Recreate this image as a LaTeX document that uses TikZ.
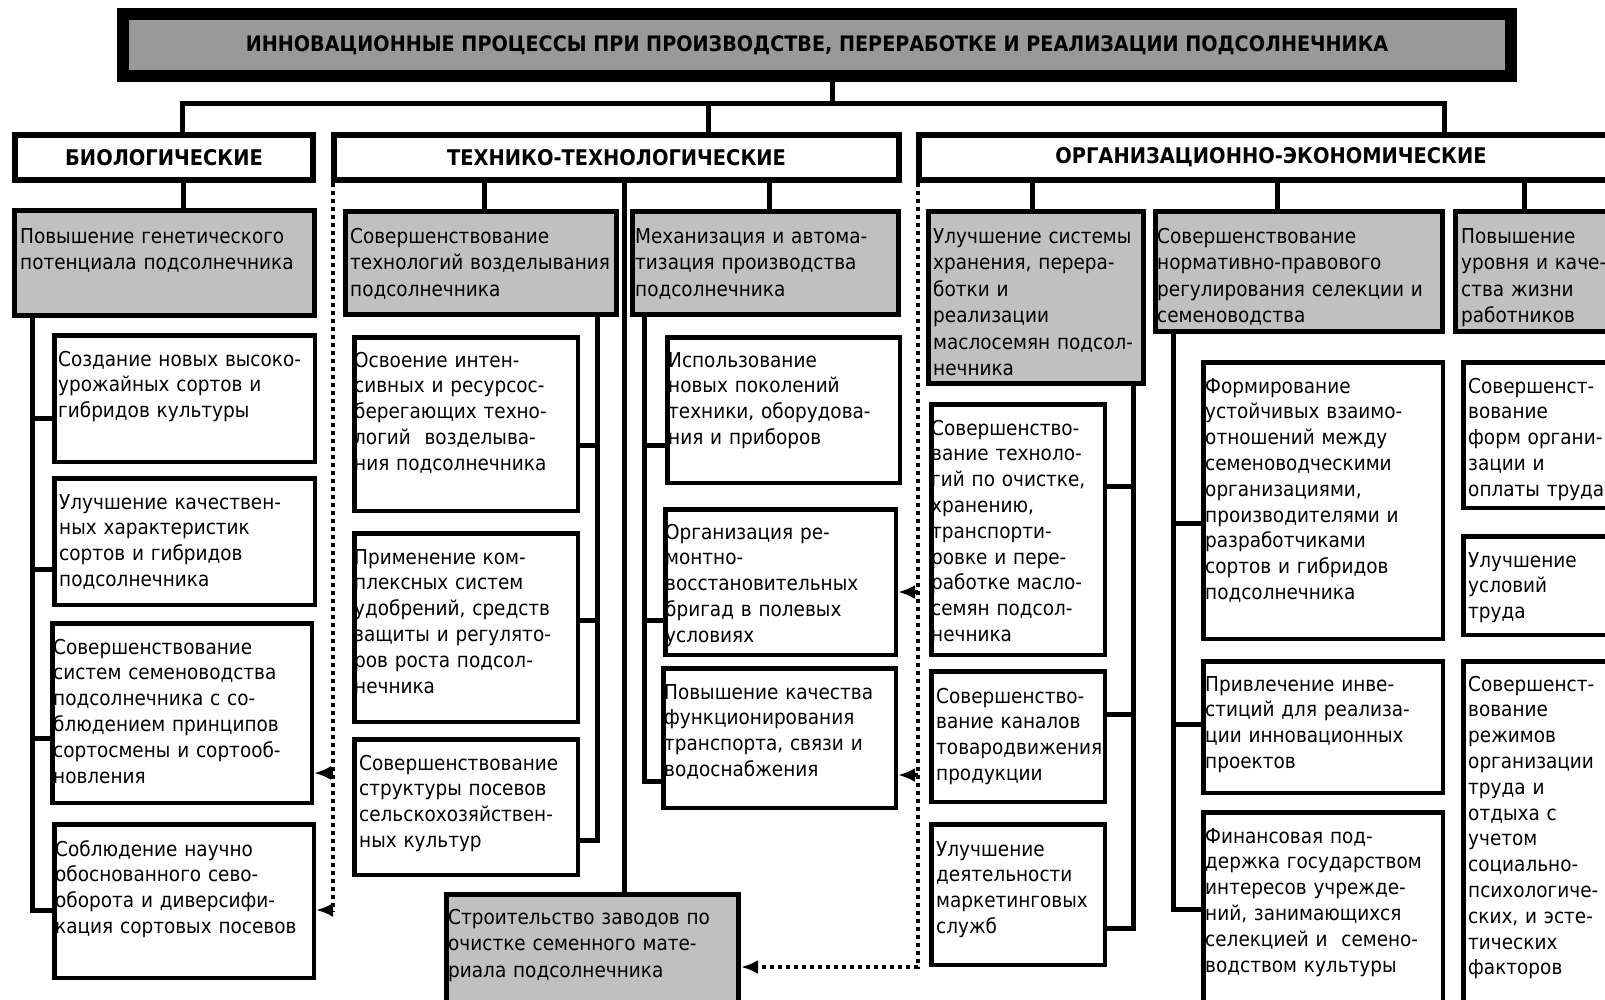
\documentclass[tikz,border=0pt]{standalone}
\usepackage{fontspec}
\setmainfont{DejaVu Sans}[FakeStretch=0.9]
\usetikzlibrary{arrows.meta}
\definecolor{titlegray}{RGB}{153,153,153}
\definecolor{boxgray}{RGB}{192,192,192}
\tikzset{
  titlebox/.style={draw, line width=12pt, fill=titlegray, inner sep=0pt, font=\bfseries\fontsize{21.3}{26}\selectfont},
  headbox/.style={draw, line width=6pt, fill=white, inner sep=0pt, font=\bfseries\fontsize{21.6}{26}\selectfont},
  graybox/.style={draw, line width=5pt, fill=boxgray, inner sep=0pt},
  whitebox/.style={draw, line width=4.5pt, fill=white, inner sep=0pt},
  gtxt/.style={inner sep=0pt, anchor=base west, align=left, font=\fontsize{20.5}{26.5}\selectfont},
  wtxt/.style={inner sep=0pt, anchor=base west, align=left, font=\fontsize{20.5}{25.8}\selectfont},
  conn/.style={line width=5pt},
  dotl/.style={line width=4pt, dash pattern=on 4pt off 4pt},
  arr/.style={line width=4pt, -{Latex[length=17pt,width=14pt]}},
}
% style, name, x1, y1, x2, y2, line width, text
\newcommand\bx[8]{\node[#1, minimum width={#5-#3-#7}, minimum height={#6-#4-#7}] (#2) at ({(#3+#5)/2},{(#4+#6)/2}) {#8};}
% style, box name, pad x, baseline offset, text width, text
\newcommand\tx[6]{\node[#1, text width=#5] (#2-t) at ([shift={(#3,#4)}]#2.north west) {#6};}
\begin{document}
\begin{tikzpicture}[x=1pt,y=-1pt]
\useasboundingbox (0,0) rectangle (1605,999);
\clip (0,0) rectangle (1605,999);

% ---- boxes ----
\bx{titlebox}{title}{117}{8}{1517}{82}{12}{ИННОВАЦИОННЫЕ ПРОЦЕССЫ ПРИ ПРОИЗВОДСТВЕ, ПЕРЕРАБОТКЕ И РЕАЛИЗАЦИИ ПОДСОЛНЕЧНИКА}
\bx{headbox}{bioH}{12}{132}{316}{183}{6}{БИОЛОГИЧЕСКИЕ}
\bx{headbox}{techH}{331}{132}{902}{183}{6}{ТЕХНИКО-ТЕХНОЛОГИЧЕСКИЕ}
\bx{headbox}{orgH}{916}{132}{1626}{183}{6}{ОРГАНИЗАЦИОННО-ЭКОНОМИЧЕСКИЕ}

\bx{graybox}{bioG}{12}{208}{317}{318}{5}{}
\bx{graybox}{t1G}{343}{209}{619}{317}{5}{}
\bx{graybox}{t2G}{630}{209}{901}{317}{5}{}
\bx{graybox}{o1G}{926}{209}{1146}{386}{5}{}
\bx{graybox}{o2G}{1153}{209}{1445}{334}{5}{}
\bx{graybox}{o3G}{1453}{209}{1650}{334}{5}{}
\bx{graybox}{stroi}{444}{892}{741}{1030}{5}{}

\bx{whitebox}{b1}{52}{333}{317}{464}{4.5}{}
\bx{whitebox}{b2}{52}{476}{317}{607}{4.5}{}
\bx{whitebox}{b3}{50}{621}{314}{805}{4.5}{}
\bx{whitebox}{b4}{52}{822}{316}{980}{4.5}{}
\bx{whitebox}{t1a}{352}{335}{580}{513}{4.5}{}
\bx{whitebox}{t1b}{352}{531}{580}{724}{4.5}{}
\bx{whitebox}{t1c}{352}{737}{580}{877}{4.5}{}
\bx{whitebox}{m1}{665}{335}{902}{485}{4.5}{}
\bx{whitebox}{m2}{663}{507}{898}{657}{4.5}{}
\bx{whitebox}{m3}{661}{666}{898}{810}{4.5}{}
\bx{whitebox}{o1a}{929}{402}{1107}{657}{4.5}{}
\bx{whitebox}{o1b}{929}{669}{1107}{804}{4.5}{}
\bx{whitebox}{o1c}{929}{822}{1107}{967}{4.5}{}
\bx{whitebox}{f1}{1201}{360}{1445}{641}{4.5}{}
\bx{whitebox}{f2}{1201}{659}{1445}{795}{4.5}{}
\bx{whitebox}{f3}{1201}{810}{1445}{1030}{4.5}{}
\bx{whitebox}{w1}{1461}{360}{1650}{510}{4.5}{}
\bx{whitebox}{w2}{1461}{534}{1650}{637}{4.5}{}
\bx{whitebox}{w3}{1461}{659}{1650}{1030}{4.5}{}

% ---- texts ----
\tx{gtxt}{bioG}{8}{35}{300pt}{Повышение генетического\\потенциала подсолнечника}
\tx{gtxt}{t1G}{7}{34}{275pt}{Совершенствование\\технологий возделывания\\подсолнечника}
\tx{gtxt}{t2G}{5}{34}{270pt}{Механизация и автома-\\тизация производства\\подсолнечника}
\tx{gtxt}{o1G}{7}{34}{220pt}{Улучшение системы\\хранения, перера-\\ботки и\\реализации\\маслосемян подсол-\\нечника}
\tx{gtxt}{o2G}{4}{34}{295pt}{Совершенствование\\нормативно-правового\\регулирования селекции и\\семеноводства}
\tx{gtxt}{o3G}{8}{34}{180pt}{Повышение\\уровня и каче-\\ства жизни\\работников}
\tx{gtxt}{stroi}{4}{32}{300pt}{Строительство заводов по\\очистке семенного мате-\\риала подсолнечника}

\tx{wtxt}{b1}{6}{33}{265pt}{Создание новых высоко-\\урожайных сортов и\\гибридов культуры}
\tx{wtxt}{b2}{7}{33}{265pt}{Улучшение качествен-\\ных характеристик\\сортов и гибридов\\подсолнечника}
\tx{wtxt}{b3}{3}{33}{265pt}{Совершенствование\\систем семеноводства\\подсолнечника с со-\\блюдением принципов\\сортосмены и сортооб-\\новления}
\tx{wtxt}{b4}{3}{34}{265pt}{Соблюдение научно\\обоснованного сево-\\оборота и диверсифи-\\кация сортовых посевов}
\tx{wtxt}{t1a}{2}{32}{235pt}{Освоение интен-\\сивных и ресурсос-\\берегающих техно-\\логий\ \ возделыва-\\ния подсолнечника}
\tx{wtxt}{t1b}{2}{33}{235pt}{Применение ком-\\плексных систем\\удобрений, средств\\защиты и регулято-\\ров роста подсол-\\нечника}
\tx{wtxt}{t1c}{7}{33}{230pt}{Совершенствование\\структуры посевов\\сельскохозяйствен-\\ных культур}
\tx{wtxt}{m1}{3}{32}{240pt}{Использование\\новых поколений\\техники, оборудова-\\ния и приборов}
\tx{wtxt}{m2}{2}{32}{240pt}{Организация ре-\\монтно-\\восстановительных\\бригад в полевых\\условиях}
\tx{wtxt}{m3}{3}{33}{240pt}{Повышение качества\\функционирования\\транспорта, связи и\\водоснабжения}
\tx{wtxt}{o1a}{2}{33}{185pt}{Совершенство-\\вание техноло-\\гий по очистке,\\хранению,\\транспорти-\\ровке и пере-\\работке масло-\\семян подсол-\\нечника}
\tx{wtxt}{o1b}{7}{34}{185pt}{Совершенство-\\вание каналов\\товародвижения\\продукции}
\tx{wtxt}{o1c}{7}{34}{180pt}{Улучшение\\деятельности\\маркетинговых\\служб}
\tx{wtxt}{f1}{4}{33}{245pt}{Формирование\\устойчивых взаимо-\\отношений между\\семеноводческими\\организациями,\\производителями и\\разработчиками\\сортов и гибридов\\подсолнечника}
\tx{wtxt}{f2}{4}{32}{245pt}{Привлечение инве-\\стиций для реализа-\\ции инновационных\\проектов}
\tx{wtxt}{f3}{4}{33}{245pt}{Финансовая под-\\держка государством\\интересов учрежде-\\ний, занимающихся\\селекцией и\ \ семено-\\водством культуры}
\tx{wtxt}{w1}{7}{33}{180pt}{Совершенст-\\вование\\форм органи-\\зации и\\оплаты труда}
\tx{wtxt}{w2}{7}{33}{180pt}{Улучшение\\условий\\труда}
\tx{wtxt}{w3}{7}{32}{180pt}{Совершенст-\\вование\\режимов\\организации\\труда и\\отдыха с\\учетом\\социально-\\психологиче-\\ских, и эсте-\\тических\\факторов}

% ---- coordinates ----
\coordinate (hub) at (832,103);
\coordinate (hl) at (182,103);
\coordinate (hr) at (1444,103);
\coordinate (ht) at (708,103);
\coordinate (xb) at (183,0);
\coordinate (x1) at (484,0);
\coordinate (x2) at (769,0);
\coordinate (xc) at (624,0);
\coordinate (xo1) at (1032,0);
\coordinate (xo2) at (1277,0);
\coordinate (xo3) at (1524,0);
\coordinate (bs) at (32,0);
\coordinate (s1) at (597,0);
\coordinate (s2) at (644,0);
\coordinate (s3) at (1133,0);
\coordinate (s4) at (1173,0);
\coordinate (dL) at (333,0);
\coordinate (dR) at (918,0);

% ---- top connectors ----
\draw[conn] (title.south -| hub) -- (hub);
\draw[conn] (bioH.north -| hl) -- (hl) -- (hr) -- (orgH.north -| hr);
\draw[conn] (ht) -- (techH.north -| ht);

\draw[conn] (bioH.south -| xb) -- (bioG.north -| xb);
\draw[conn] (techH.south -| x1) -- (t1G.north -| x1);
\draw[conn] (techH.south -| x2) -- (t2G.north -| x2);
\draw[conn] (techH.south -| xc) -- (stroi.north -| xc);
\draw[conn] (orgH.south -| xo1) -- (o1G.north -| xo1);
\draw[conn] (orgH.south -| xo2) -- (o2G.north -| xo2);
\draw[conn] (orgH.south -| xo3) -- (o3G.north -| xo3);

% ---- spines ----
\draw[conn] (bioG.south -| bs) -- (bs |- 0,910) -- (b4.west |- 0,910);
\draw[conn] (bs |- 0,418) -- (b1.west |- 0,418);
\draw[conn] (bs |- 0,569) -- (b2.west |- 0,569);
\draw[conn] (bs |- 0,738) -- (b3.west |- 0,738);

\draw[conn] (t1G.south -| s1) -- (s1 |- 0,840) -- (t1c.east |- 0,840);
\draw[conn] (s1 |- 0,445) -- (t1a.east |- 0,445);
\draw[conn] (s1 |- 0,620) -- (t1b.east |- 0,620);

\draw[conn] (t2G.south -| s2) -- (s2 |- 0,781) -- (m3.west |- 0,781);
\draw[conn] (s2 |- 0,445) -- (m1.west |- 0,445);
\draw[conn] (s2 |- 0,620) -- (m2.west |- 0,620);

\draw[conn] (o1G.south -| s3) -- (s3 |- 0,928) -- (o1c.east |- 0,928);
\draw[conn] (s3 |- 0,486) -- (o1a.east |- 0,486);
\draw[conn] (s3 |- 0,714) -- (o1b.east |- 0,714);

\draw[conn] (o2G.south -| s4) -- (s4 |- 0,909) -- (f3.west |- 0,909);
\draw[conn] (s4 |- 0,523) -- (f1.west |- 0,523);
\draw[conn] (s4 |- 0,724) -- (f2.west |- 0,724);

% ---- dotted links ----
\draw[dotl] (techH.south -| dL) -- (dL |- 0,912);
\draw[arr] (dL |- 0,773) -- (b3.east |- 0,773);
\draw[arr] (dL |- 0,910) -- (b4.east |- 0,910);

\draw[dotl, -{Latex[length=17pt,width=14pt]}] (orgH.south -| dR) -- (dR |- 0,967) -- (stroi.east |- 0,967);
\draw[arr] (dR |- 0,592) -- (m2.east |- 0,592);
\draw[arr] (dR |- 0,775) -- (m3.east |- 0,775);
\end{tikzpicture}
\end{document}
